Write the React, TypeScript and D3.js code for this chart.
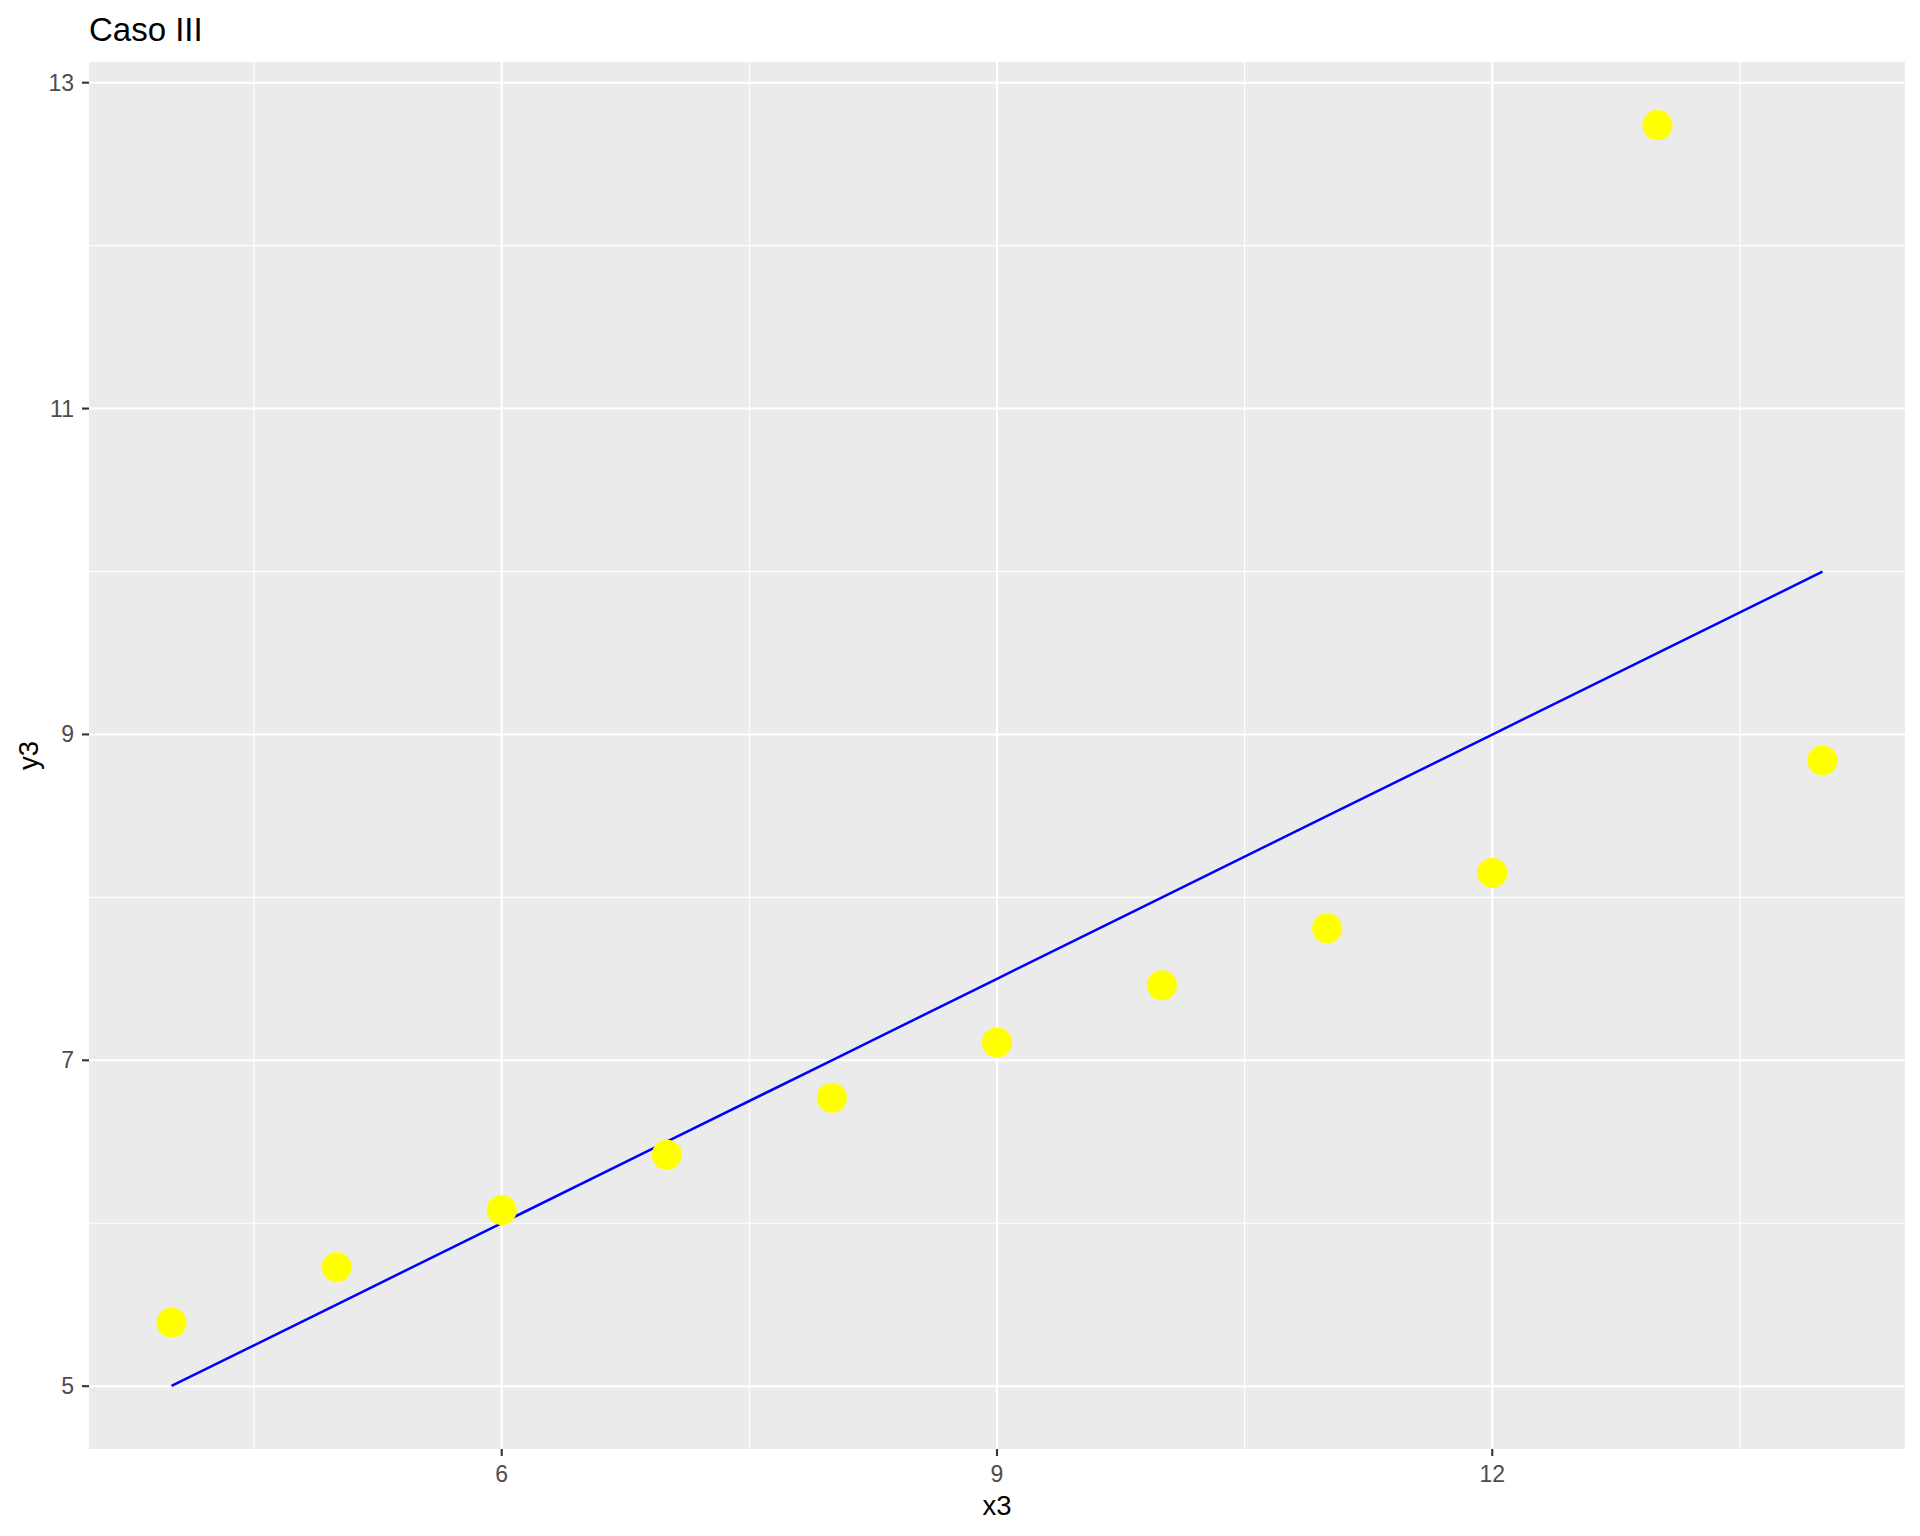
import React from 'react';
import * as d3 from 'd3';

// Anscombe III
const x3 = [10, 8, 13, 9, 11, 14, 6, 4, 12, 7, 5];
const y3 = [7.46, 6.77, 12.74, 7.11, 7.81, 8.84, 6.08, 5.39, 8.15, 6.42, 5.73];
const xTicks = [6, 9, 12];
const yTicks = [5, 7, 9, 11, 13];

const W = 1920;
const H = 1536;
const M = { left: 89, right: 1905, top: 62, bottom: 1449 };

export default function App() {
  const pts = x3.map((x, i) => ({ x, y: y3[i] })).sort((a, b) => a.x - b.x);

  // least-squares fit, as lm() gives
  const mx = d3.mean(x3) as number;
  const my = d3.mean(y3) as number;
  const sxy = d3.sum(x3, (x, i) => (x - mx) * (y3[i] - my));
  const sxx = d3.sum(x3, x => (x - mx) * (x - mx));
  const slope = sxy / sxx;
  const icpt = my - slope * mx;
  const fit = pts.map(p => ({ x: p.x, y: icpt + slope * p.x }));

  const xExt = d3.extent(x3) as [number, number];
  const yAll = y3.concat(fit.map(d => d.y));
  const yExt = d3.extent(yAll) as [number, number];
  const xPad = (xExt[1] - xExt[0]) * 0.05;
  const yPad = (yExt[1] - yExt[0]) * 0.05;

  const x = d3.scaleLinear().domain([xExt[0] - xPad, xExt[1] + xPad]).range([M.left, M.right]);
  const y = d3.scaleLinear().domain([yExt[0] - yPad, yExt[1] + yPad]).range([M.bottom, M.top]);

  const minorX = xTicks.slice(0, -1).map((t, i) => (t + xTicks[i + 1]) / 2);
  minorX.unshift(xTicks[0] - 1.5);
  minorX.push(xTicks[xTicks.length - 1] + 1.5);
  const minorY = yTicks.slice(0, -1).map((t, i) => (t + yTicks[i + 1]) / 2);

  const line = d3.line<{ x: number; y: number }>().x(d => x(d.x)).y(d => y(d.y));

  const font = '"Liberation Sans", Arial, sans-serif';

  return (
    <svg width={W} height={H} style={{ position: 'absolute', left: 0, top: 0 }} fontFamily={font}>
      <rect x={0} y={0} width={W} height={H} fill="#fff" />
      <text x={89} y={41} fontSize={33} fill="#000">Caso III</text>
      <rect x={M.left} y={M.top} width={M.right - M.left} height={M.bottom - M.top} fill="#EBEBEB" />
      {minorX.map(t => (
        <line key={'mx' + t} x1={x(t)} x2={x(t)} y1={M.top} y2={M.bottom} stroke="#fff" strokeWidth={1.1} />
      ))}
      {minorY.map(t => (
        <line key={'my' + t} x1={M.left} x2={M.right} y1={y(t)} y2={y(t)} stroke="#fff" strokeWidth={1.1} />
      ))}
      {xTicks.map(t => (
        <line key={'gx' + t} x1={x(t)} x2={x(t)} y1={M.top} y2={M.bottom} stroke="#fff" strokeWidth={2.1} />
      ))}
      {yTicks.map(t => (
        <line key={'gy' + t} x1={M.left} x2={M.right} y1={y(t)} y2={y(t)} stroke="#fff" strokeWidth={2.1} />
      ))}
      <path d={line(fit) || ''} fill="none" stroke="#0000FF" strokeWidth={2.5} />
      {pts.map((p, i) => (
        <circle key={i} cx={x(p.x)} cy={y(p.y)} r={15} fill="#FFFF00" />
      ))}
      {xTicks.map(t => (
        <g key={'tx' + t}>
          <line x1={x(t)} x2={x(t)} y1={M.bottom} y2={M.bottom + 7} stroke="#333" strokeWidth={2.1} />
          <text x={x(t)} y={1482} fontSize={23} fill="#4D4D4D" textAnchor="middle">{t}</text>
        </g>
      ))}
      {yTicks.map(t => (
        <g key={'ty' + t}>
          <line x1={M.left - 7} x2={M.left} y1={y(t)} y2={y(t)} stroke="#333" strokeWidth={2.1} />
          <text x={74} y={y(t)} dy="0.35em" fontSize={23} fill="#4D4D4D" textAnchor="end">{t}</text>
        </g>
      ))}
      <text x={(M.left + M.right) / 2} y={1515} fontSize={27.5} fill="#000" textAnchor="middle">x3</text>
      <text transform={`translate(38,${(M.top + M.bottom) / 2}) rotate(-90)`} fontSize={27.5} fill="#000" textAnchor="middle">y3</text>
    </svg>
  );
}
